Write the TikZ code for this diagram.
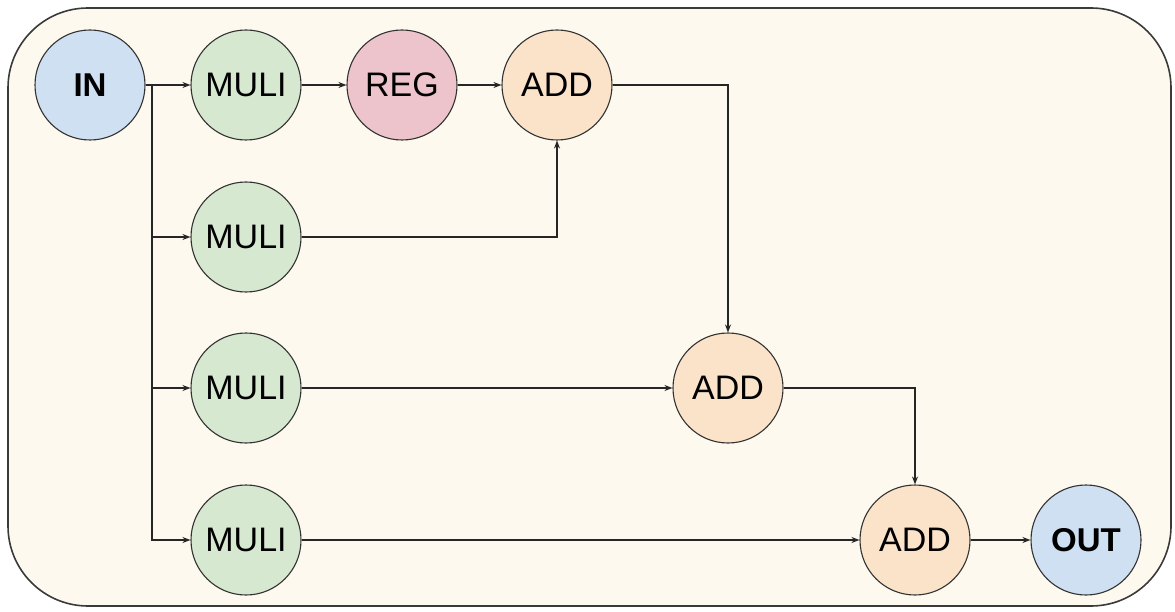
\documentclass[tikz,border=0pt]{standalone}
\usepackage{fontspec}
\setmainfont{Liberation Sans}
\usetikzlibrary{arrows.meta}

\definecolor{panelfill}{HTML}{FDF9EE}
\definecolor{panelline}{HTML}{3A3A3A}
\definecolor{ioblue}{HTML}{CFE0F3}
\definecolor{mulgreen}{HTML}{D7E8D1}
\definecolor{regpink}{HTML}{EDC3CC}
\definecolor{addorange}{HTML}{FBE3CA}

\tikzset{
  unit/.style={circle, draw=black!80, line width=1.1pt, minimum size=110pt,
               inner sep=0pt, font=\fontsize{34}{40}\selectfont},
  io/.style={unit, fill=ioblue, font=\fontsize{33}{40}\selectfont\bfseries},
  mul/.style={unit, fill=mulgreen},
  reg/.style={unit, fill=regpink},
  add/.style={unit, fill=addorange},
  wire/.style={line width=1.1pt, draw=black!85},
  arr/.style={wire, -{Stealth[length=8pt,width=6pt]}},
}

\begin{document}
\begin{tikzpicture}[x=1pt, y=-1pt]
  \useasboundingbox (0,0) rectangle (1175,612);

  % panel
  \draw[fill=panelfill, draw=panelline, line width=1.6pt, rounded corners=80pt]
    (8,8) rectangle (1171,606);

  % units
  \node[io]  (in)   at (90,85)   {IN};
  \node[mul] (m1)   at (246,85)  {MULI};
  \node[reg] (reg)  at (402,85)  {REG};
  \node[add] (add1) at (557,85)  {ADD};
  \node[mul] (m2)   at (246,237) {MULI};
  \node[mul] (m3)   at (246,388) {MULI};
  \node[add] (add2) at (728,388) {ADD};
  \node[mul] (m4)   at (246,540) {MULI};
  \node[add] (add3) at (915,540) {ADD};
  \node[io]  (out)  at (1086,540){OUT};

  % fan-out of the input
  \coordinate (split) at (152,85);
  \draw[arr] (in.east) -- (m1.west);
  \draw[arr] (split) |- (m2.west);
  \draw[arr] (split) |- (m3.west);
  \draw[arr] (split) |- (m4.west);

  % data path
  \draw[arr] (m1.east) -- (reg.west);
  \draw[arr] (reg.east) -- (add1.west);
  \draw[arr] (m2.east) -| (add1.south);
  \draw[arr] (add1.east) -| (add2.north);
  \draw[arr] (m3.east) -- (add2.west);
  \draw[arr] (add2.east) -| (add3.north);
  \draw[arr] (m4.east) -- (add3.west);
  \draw[arr, line width=1.5pt] (add3.east) -- (out.west);
\end{tikzpicture}
\end{document}
